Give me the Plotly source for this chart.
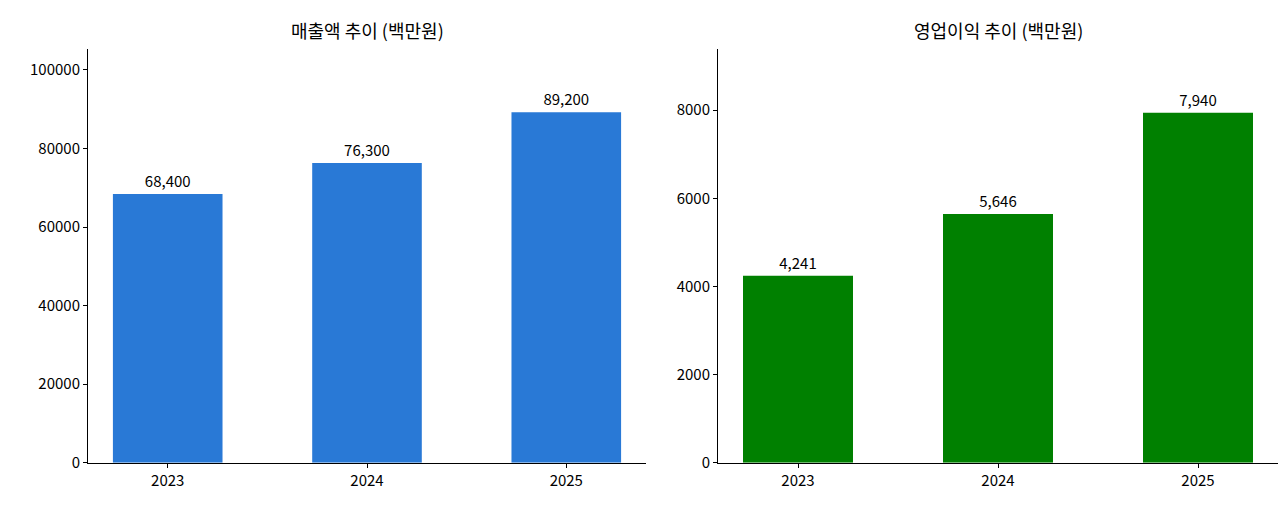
import plotly.graph_objects as go

years = ["2023", "2024", "2025"]
sales = [68400, 76300, 89200]
profit = [4241, 5646, 7940]
xs = [0, 1, 2]

fig = go.Figure()
fig.add_bar(x=xs, y=sales, width=0.55, marker_color="#2979d6", marker_line_width=0,
            text=[f"{v:,}" for v in sales], textposition="outside",
            textfont=dict(size=15, color="black"), cliponaxis=False, xaxis="x", yaxis="y")
fig.add_bar(x=xs, y=profit, width=0.55, marker_color="#008000", marker_line_width=0,
            text=[f"{v:,}" for v in profit], textposition="outside",
            textfont=dict(size=15, color="black"), cliponaxis=False, xaxis="x2", yaxis="y2")

ax = dict(showline=True, linecolor="black", ticks="outside", tickcolor="black", ticklen=4,
          showgrid=False, zeroline=False, tickfont=dict(size=15, color="black"))
yd = [1 - 463/507, 1 - 42/507]
fig.update_layout(
    width=1286, height=507, showlegend=False, plot_bgcolor="white", paper_bgcolor="white",
    margin=dict(l=0, r=0, t=0, b=0), uniformtext=dict(mode=False),
    font=dict(family="Noto Sans CJK KR", color="black"),
    xaxis=dict(ax, domain=[80/1286, 638/1286], range=[-0.4, 2.4], tickvals=xs, ticktext=years),
    yaxis=dict(ax, domain=yd, range=[0, 105260], tickformat="d",
               tickvals=[0, 20000, 40000, 60000, 80000, 100000]),
    xaxis2=dict(ax, domain=[710/1286, 1270/1286], range=[-0.4, 2.4], tickvals=xs, ticktext=years, anchor="y2"),
    yaxis2=dict(ax, domain=yd, range=[0, 9382], tickformat="d", tickvals=[0, 2000, 4000, 6000, 8000], anchor="x2"),
    annotations=[
        dict(text="매출액 추이 (백만원)", x=359/1286, y=1 - 22/507, xref="paper", yref="paper",
             xanchor="center", yanchor="middle", showarrow=False, font=dict(size=18)),
        dict(text="영업이익 추이 (백만원)", x=990/1286, y=1 - 22/507, xref="paper", yref="paper",
             xanchor="center", yanchor="middle", showarrow=False, font=dict(size=18)),
    ],
)
fig.write_html("out.html")
